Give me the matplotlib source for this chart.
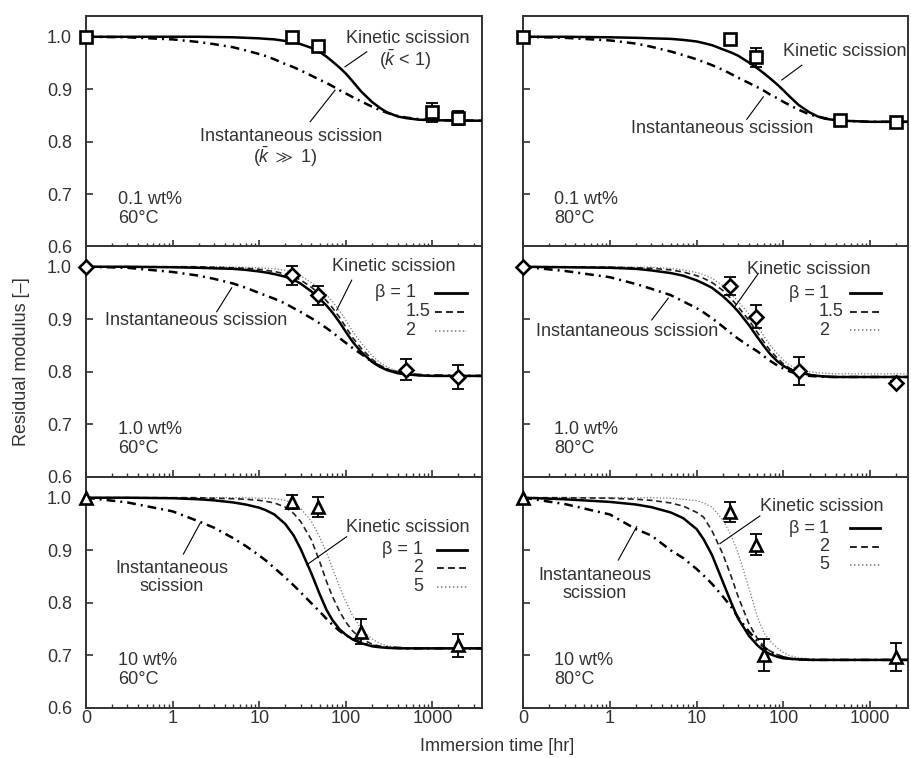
import numpy as np
import matplotlib
matplotlib.use("Agg")
import matplotlib.pyplot as plt
from matplotlib.ticker import FixedLocator, FixedFormatter, LogLocator, NullFormatter

plt.rcParams['font.family'] = ['Liberation Sans', 'DejaVu Sans']
plt.rcParams['mathtext.fontset'] = 'custom'
plt.rcParams['mathtext.rm'] = 'Liberation Sans'
plt.rcParams['mathtext.it'] = 'Liberation Sans:italic'
plt.rcParams['mathtext.fallback'] = 'stixsans'
plt.rcParams['font.size'] = 13

TXT = '#333333'

# time grid (hr) on which the model curves were read; 0 is drawn at 0.1
TIME = [0, 0.3, 1, 2, 3, 5, 7, 10, 12, 15, 20, 25, 30, 40, 50, 60, 70, 85, 100, 120, 150, 200, 250, 300, 400, 500, 700, 1000, 4000]

# ---- 0.1 wt%, 60 C
P1_INST = [1.000, 0.999, 0.995, 0.990, 0.986, 0.980, 0.974, 0.967, 0.963, 0.957, 0.948, 0.942, 0.936, 0.926, 0.918, 0.912, 0.906, 0.898, 0.892, 0.885, 0.877, 0.867, 0.860, 0.855, 0.849, 0.846, 0.843, 0.841, 0.840]
P1_KIN = [1.000, 1.000, 1.000, 1.000, 0.9995, 0.999, 0.998, 0.997, 0.996, 0.995, 0.992, 0.990, 0.986, 0.979, 0.971, 0.962, 0.953, 0.941, 0.930, 0.915, 0.896, 0.876, 0.864, 0.856, 0.848, 0.845, 0.842, 0.841, 0.840]
P1_T = [0, 24, 48, 1000, 2000]
P1_Y = [1.000, 0.999, 0.982, 0.856, 0.845]
P1_ERR = [0, 0.004, 0.005, 0.018, 0.014]

# ---- 0.1 wt%, 80 C
P2_INST = [1.000, 0.998, 0.993, 0.987, 0.981, 0.972, 0.965, 0.957, 0.952, 0.946, 0.937, 0.929, 0.922, 0.912, 0.904, 0.897, 0.890, 0.883, 0.876, 0.869, 0.861, 0.852, 0.848, 0.845, 0.841, 0.840, 0.839, 0.838, 0.838]
P2_KIN = [1.000, 1.000, 0.999, 0.998, 0.997, 0.996, 0.994, 0.991, 0.988, 0.984, 0.976, 0.970, 0.964, 0.951, 0.940, 0.930, 0.921, 0.909, 0.898, 0.885, 0.870, 0.856, 0.848, 0.844, 0.841, 0.840, 0.839, 0.838, 0.838]
P2_T = [0, 24, 48, 450, 2000]
P2_Y = [1.000, 0.996, 0.961, 0.841, 0.838]
P2_ERR = [0, 0.004, 0.018, 0.005, 0.005]

# ---- 1.0 wt%, 60 C
P3_INST = [1.000, 0.998, 0.990, 0.983, 0.977, 0.968, 0.960, 0.950, 0.945, 0.939, 0.930, 0.921, 0.914, 0.902, 0.892, 0.883, 0.875, 0.864, 0.855, 0.845, 0.834, 0.819, 0.810, 0.805, 0.799, 0.796, 0.794, 0.793, 0.792]
P3_B1 = [1.000, 1.000, 0.999, 0.998, 0.997, 0.996, 0.994, 0.991, 0.989, 0.986, 0.981, 0.975, 0.968, 0.953, 0.939, 0.926, 0.913, 0.894, 0.876, 0.857, 0.838, 0.819, 0.809, 0.803, 0.797, 0.795, 0.793, 0.792, 0.792]
P3_B2 = [1.000, 1.000, 1.000, 1.000, 0.999, 0.998, 0.997, 0.995, 0.993, 0.991, 0.986, 0.981, 0.975, 0.961, 0.948, 0.935, 0.922, 0.903, 0.885, 0.865, 0.845, 0.824, 0.812, 0.805, 0.798, 0.795, 0.793, 0.792, 0.792]
P3_B3 = [1.000, 1.000, 1.000, 1.000, 1.000, 0.999, 0.999, 0.998, 0.997, 0.996, 0.993, 0.989, 0.983, 0.970, 0.958, 0.946, 0.934, 0.916, 0.898, 0.877, 0.855, 0.831, 0.817, 0.809, 0.800, 0.797, 0.794, 0.793, 0.793]
P3_T = [0, 24, 48, 500, 2000]
P3_Y = [1.000, 0.984, 0.946, 0.804, 0.790]
P3_ERR = [0, 0.018, 0.018, 0.020, 0.022]

# ---- 1.0 wt%, 80 C
P4_INST = [1.000, 0.992, 0.980, 0.967, 0.958, 0.946, 0.934, 0.921, 0.913, 0.902, 0.886, 0.873, 0.863, 0.849, 0.839, 0.829, 0.821, 0.812, 0.806, 0.800, 0.796, 0.792, 0.791, 0.790, 0.790, 0.790, 0.790, 0.790, 0.790]
P4_B1 = [1.000, 0.999, 0.998, 0.996, 0.993, 0.988, 0.983, 0.974, 0.968, 0.960, 0.944, 0.929, 0.915, 0.889, 0.866, 0.848, 0.834, 0.820, 0.811, 0.804, 0.799, 0.794, 0.792, 0.791, 0.790, 0.790, 0.790, 0.790, 0.790]
P4_B2 = [1.000, 1.000, 0.999, 0.998, 0.997, 0.994, 0.990, 0.983, 0.978, 0.970, 0.955, 0.939, 0.924, 0.898, 0.875, 0.856, 0.841, 0.826, 0.815, 0.806, 0.800, 0.795, 0.792, 0.791, 0.790, 0.790, 0.790, 0.790, 0.790]
P4_B3 = [1.000, 1.000, 1.000, 0.999, 0.999, 0.997, 0.994, 0.989, 0.985, 0.978, 0.964, 0.949, 0.934, 0.910, 0.887, 0.867, 0.851, 0.834, 0.822, 0.812, 0.804, 0.800, 0.798, 0.797, 0.796, 0.796, 0.796, 0.796, 0.796]
P4_T = [0, 24, 48, 150, 2000]
P4_Y = [1.000, 0.964, 0.905, 0.802, 0.779]
P4_ERR = [0, 0.017, 0.022, 0.027, 0.004]

# ---- 10 wt%, 60 C
P5_INST = [1.000, 0.991, 0.974, 0.955, 0.943, 0.923, 0.908, 0.890, 0.880, 0.866, 0.848, 0.833, 0.820, 0.799, 0.783, 0.769, 0.758, 0.746, 0.738, 0.731, 0.724, 0.718, 0.716, 0.715, 0.714, 0.713, 0.713, 0.713, 0.713]
P5_B1 = [1.000, 1.000, 0.999, 0.997, 0.995, 0.991, 0.987, 0.981, 0.976, 0.968, 0.950, 0.928, 0.903, 0.856, 0.816, 0.786, 0.767, 0.749, 0.739, 0.730, 0.723, 0.717, 0.715, 0.714, 0.713, 0.713, 0.713, 0.713, 0.713]
P5_B2 = [1.000, 1.000, 1.000, 1.000, 0.999, 0.998, 0.997, 0.995, 0.993, 0.990, 0.982, 0.970, 0.955, 0.920, 0.878, 0.840, 0.812, 0.783, 0.763, 0.746, 0.732, 0.721, 0.717, 0.715, 0.714, 0.713, 0.713, 0.713, 0.713]
P5_B3 = [1.000, 1.000, 1.000, 1.000, 1.000, 1.000, 1.000, 0.999, 0.999, 0.998, 0.995, 0.989, 0.980, 0.955, 0.925, 0.895, 0.866, 0.830, 0.802, 0.775, 0.751, 0.731, 0.722, 0.718, 0.715, 0.714, 0.713, 0.713, 0.713]
P5_T = [0, 24, 48, 150, 2000]
P5_Y = [1.000, 0.992, 0.983, 0.745, 0.719]
P5_ERR = [0, 0.014, 0.019, 0.023, 0.022]

# ---- 10 wt%, 80 C
P6_INST = [1.000, 0.988, 0.968, 0.940, 0.928, 0.900, 0.885, 0.864, 0.852, 0.836, 0.812, 0.792, 0.772, 0.745, 0.727, 0.715, 0.707, 0.700, 0.696, 0.693, 0.692, 0.691, 0.691, 0.691, 0.691, 0.691, 0.691, 0.691, 0.691]
P6_B1 = [1.000, 0.997, 0.992, 0.987, 0.982, 0.972, 0.961, 0.940, 0.921, 0.891, 0.840, 0.800, 0.770, 0.737, 0.719, 0.708, 0.702, 0.697, 0.694, 0.693, 0.692, 0.691, 0.691, 0.691, 0.691, 0.691, 0.691, 0.691, 0.691]
P6_B2 = [1.000, 1.000, 0.999, 0.997, 0.995, 0.990, 0.984, 0.972, 0.963, 0.937, 0.893, 0.850, 0.812, 0.760, 0.732, 0.716, 0.708, 0.701, 0.697, 0.694, 0.693, 0.692, 0.691, 0.691, 0.691, 0.691, 0.691, 0.691, 0.691]
P6_B3 = [1.000, 1.000, 1.000, 1.000, 1.000, 0.999, 0.997, 0.994, 0.990, 0.982, 0.958, 0.928, 0.895, 0.828, 0.773, 0.742, 0.727, 0.714, 0.705, 0.699, 0.695, 0.693, 0.692, 0.692, 0.691, 0.691, 0.691, 0.691, 0.691]
P6_T = [0, 24, 48, 60, 2000]
P6_Y = [1.000, 0.973, 0.910, 0.700, 0.697]
P6_ERR = [0, 0.019, 0.020, 0.030, 0.027]

CONC = ['0.1 wt%', '1.0 wt%', '10 wt%']
TEMP = ['60°C', '80°C']
BETA_ROW2 = ['1', '1.5', '2']
BETA_ROW3 = ['1', '2', '5']
X_TICKS = [0.1, 1, 10, 100, 1000]
X_TICKLABELS = ['0', '1', '10', '100', '1000']
Y_TICKS = [0.6, 0.7, 0.8, 0.9, 1.0]

INST_STYLE = dict(color='black', lw=1.8, ls=(0, (3.5, 2.0, 0.8, 2.0)))
KIN_STYLES = [dict(color='black', lw=1.8, ls='-'),
              dict(color='#222222', lw=1.2, ls=(0, (3.5, 2.2))),
              dict(color='#777777', lw=0.9, ls=(0, (1, 1.6)))]
MARKERS = ['s', 'D', '^']
MSIZE = [8.0, 7.0, 8.5]


def xpos(t):
    t = np.asarray(t, dtype=float)
    return np.where(t == 0, 0.1, t)


fig = plt.figure(figsize=(9.11, 7.58), dpi=100)

COL_X = [(0.0944, 0.4347, 3740), (0.5744, 0.4223, 2735)]
ROW_Y = [0.6745, 0.3711, 0.0664]
ROW_H = 0.3047

panels = [
    [(P1_INST, [P1_KIN], P1_T, P1_Y, P1_ERR), (P2_INST, [P2_KIN], P2_T, P2_Y, P2_ERR)],
    [(P3_INST, [P3_B1, P3_B2, P3_B3], P3_T, P3_Y, P3_ERR), (P4_INST, [P4_B1, P4_B2, P4_B3], P4_T, P4_Y, P4_ERR)],
    [(P5_INST, [P5_B1, P5_B2, P5_B3], P5_T, P5_Y, P5_ERR), (P6_INST, [P6_B1, P6_B2, P6_B3], P6_T, P6_Y, P6_ERR)],
]

axes = {}
for r in range(3):
    for c in range(2):
        x0, w, xmax = COL_X[c]
        ax = fig.add_axes([x0, ROW_Y[r], w, ROW_H])
        axes[(r, c)] = ax
        inst, kins, t, y, err = panels[r][c]
        ax.plot(xpos(TIME), inst, zorder=3, **INST_STYLE)
        for k in range(len(kins) - 1, -1, -1):
            ax.plot(xpos(TIME), kins[k], zorder=3, **KIN_STYLES[k])
        ax.errorbar(xpos(t), y, yerr=err, fmt='none', ecolor='black', elinewidth=1.3,
                    capsize=4, capthick=1.3, zorder=4)
        ax.plot(xpos(t), y, ls='none', marker=MARKERS[r], ms=MSIZE[r], mfc='white',
                mec='black', mew=1.9, zorder=5, clip_on=False)

        ax.set_xscale('log')
        ax.set_xlim(0.1, xmax)
        ax.set_ylim(0.6, 1.04)
        ax.xaxis.set_major_locator(FixedLocator(X_TICKS))
        ax.xaxis.set_minor_locator(LogLocator(base=10, subs=np.arange(2, 10), numticks=20))
        ax.xaxis.set_minor_formatter(NullFormatter())
        ax.set_yticks(Y_TICKS)
        if r == 2:
            ax.xaxis.set_major_formatter(FixedFormatter(X_TICKLABELS))
        else:
            ax.xaxis.set_major_formatter(NullFormatter())
        if c == 0:
            ax.set_yticklabels(['%.1f' % v for v in Y_TICKS])
        else:
            ax.set_yticklabels([])
        ax.tick_params(which='both', direction='in', top=False, right=False,
                       colors=TXT, labelsize=13)
        ax.tick_params(axis='y', which='major', length=5, width=1.2, pad=10)
        ax.tick_params(axis='x', which='major', length=5, width=1.2, pad=2)
        ax.tick_params(axis='x', which='minor', length=3, width=1.0)
        for sp in ax.spines.values():
            sp.set_linewidth(1.4)
            sp.set_color(TXT)

        ax.text(0.081, 0.203, CONC[r], transform=ax.transAxes, ha='left', va='center', color=TXT)
        ax.text(0.081, 0.123, TEMP[c], transform=ax.transAxes, ha='left', va='center', color=TXT)


def leader(ax, x1, y1, x2, y2):
    ax.plot([x1, x2], [y1, y2], color='black', lw=0.8, transform=ax.transAxes, zorder=6)


def label(ax, x, y, s, ha='center'):
    ax.text(x, y, s, transform=ax.transAxes, ha=ha, va='center', color=TXT, zorder=7)


def beta_legend(ax, xeq, xnum, ys, x1, x2, names):
    label(ax, xeq, ys[0], 'β =', ha='right')
    for k, name in enumerate(names):
        label(ax, xnum, ys[k], name, ha='left')
        st = KIN_STYLES[k]
        ax.plot([x1, x2], [ys[k], ys[k]], transform=ax.transAxes, color=st['color'],
                lw=st['lw'] + 0.2, ls=st['ls'], zorder=6)


# row 1 left
ax = axes[(0, 0)]
label(ax, 0.813, 0.902, 'Kinetic scission')
label(ax, 0.806, 0.808, r'($\bar{k}$ < 1)')
leader(ax, 0.654, 0.779, 0.709, 0.844)
label(ax, 0.519, 0.476, 'Instantaneous scission')
label(ax, 0.503, 0.390, r'($\bar{k}\ \gg\ 1$)')
leader(ax, 0.566, 0.541, 0.629, 0.678)

# row 1 right
ax = axes[(0, 1)]
label(ax, 0.676, 0.844, 'Kinetic scission', ha='left')
leader(ax, 0.672, 0.722, 0.724, 0.786)
label(ax, 0.518, 0.510, 'Instantaneous scission')
leader(ax, 0.581, 0.552, 0.624, 0.649)

# row 2 left
ax = axes[(1, 0)]
label(ax, 0.778, 0.909, 'Kinetic scission')
leader(ax, 0.633, 0.721, 0.671, 0.851)
beta_legend(ax, 0.795, 0.806, [0.797, 0.714, 0.632], 0.881, 0.962, BETA_ROW2)
label(ax, 0.278, 0.678, 'Instantaneous scission')
leader(ax, 0.330, 0.714, 0.368, 0.818)

# row 2 right
ax = axes[(1, 1)]
label(ax, 0.743, 0.895, 'Kinetic scission')
leader(ax, 0.550, 0.736, 0.611, 0.880)
beta_legend(ax, 0.758, 0.769, [0.794, 0.714, 0.635], 0.850, 0.930, BETA_ROW2)
label(ax, 0.271, 0.628, 'Instantaneous scission')
leader(ax, 0.334, 0.679, 0.377, 0.773)

# row 3 left
ax = axes[(2, 0)]
label(ax, 0.813, 0.778, 'Kinetic scission')
leader(ax, 0.557, 0.618, 0.658, 0.740)
beta_legend(ax, 0.813, 0.826, [0.683, 0.605, 0.524], 0.886, 0.962, BETA_ROW3)
label(ax, 0.216, 0.603, 'Instantaneous')
label(ax, 0.216, 0.524, 'scission')
leader(ax, 0.246, 0.665, 0.288, 0.798)

# row 3 right
ax = axes[(2, 1)]
label(ax, 0.775, 0.870, 'Kinetic scission')
leader(ax, 0.511, 0.710, 0.615, 0.830)
beta_legend(ax, 0.758, 0.769, [0.777, 0.697, 0.618], 0.850, 0.928, BETA_ROW3)
label(ax, 0.186, 0.574, 'Instantaneous')
label(ax, 0.186, 0.495, 'scission')
leader(ax, 0.247, 0.639, 0.295, 0.784)

fig.text(0.0238, 0.5224, 'Residual modulus [–]', rotation=90, ha='center', va='center', color=TXT, fontsize=13)
fig.text(0.5455, 0.0149, 'Immersion time [hr]', ha='center', va='center', color=TXT, fontsize=13)

fig.savefig('out.png', dpi=100)
